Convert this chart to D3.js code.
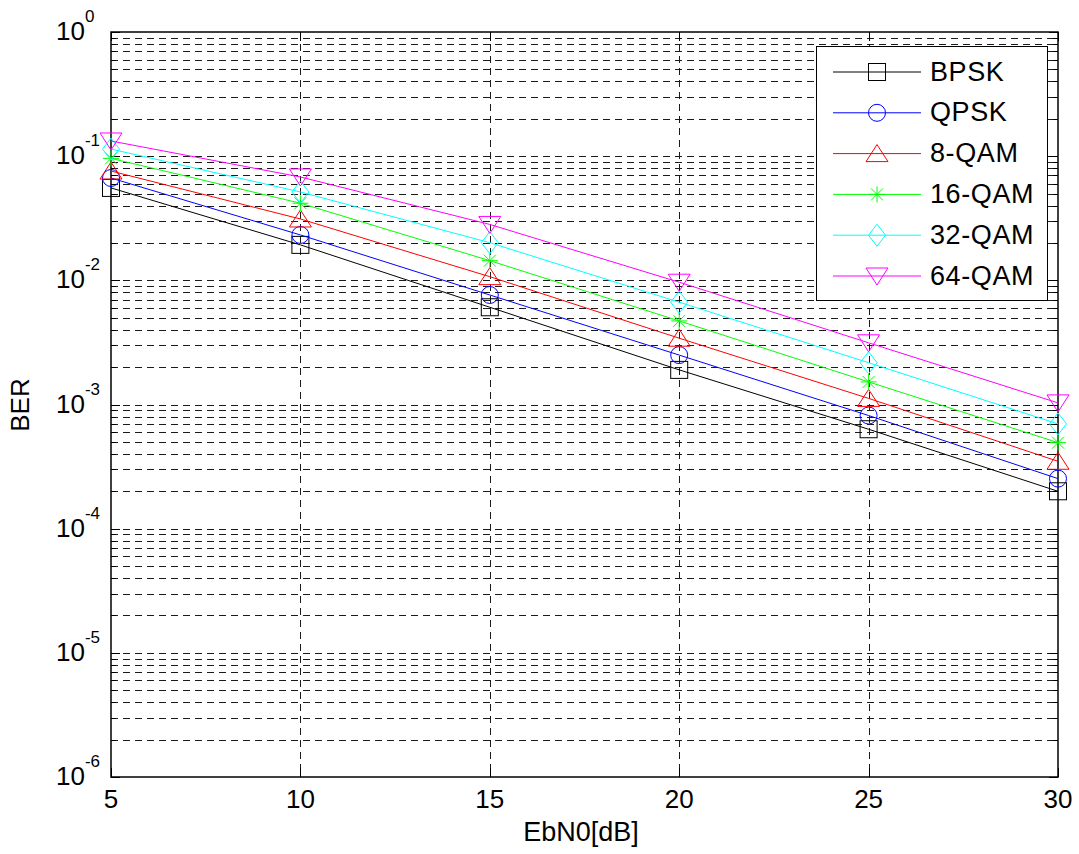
<!DOCTYPE html>
<html>
<head>
<meta charset="utf-8">
<script src="https://cdn.jsdelivr.net/npm/d3@7"></script>
<style>
body{margin:0;background:#fff;}
svg{display:block;font-family:"Liberation Sans",Arial,sans-serif;}
</style>
</head>
<body>
<svg id="chart" width="1079" height="854"></svg>
<script>
const ebn0 = [5, 10, 15, 20, 25, 30];
const seriesNames = ["BPSK", "QPSK", "8-QAM", "16-QAM", "32-QAM", "64-QAM"];
const seriesColors = ["#000000", "#0000ff", "#ff0000", "#00ff00", "#00ffff", "#ff00ff"];
const seriesMarkers = ["square", "circle", "triangleUp", "star", "diamond", "triangleDown"];
const berBPSK  = [0.0555, 0.0193, 0.00607, 0.0019, 0.000632, 0.000200];
const berQPSK  = [0.0667, 0.0232, 0.00762, 0.0025, 0.000815, 0.000253];
const ber8QAM  = [0.0759, 0.0312, 0.0107, 0.00342, 0.00112, 0.000349];
const ber16QAM = [0.0960, 0.0418, 0.0144, 0.00471, 0.00152, 0.000493];
const ber32QAM = [0.114, 0.0515, 0.0201, 0.00667, 0.00217, 0.000698];
const ber64QAM = [0.1325, 0.068, 0.0282, 0.00966, 0.00314, 0.00103];
const allSeries = [berBPSK, berQPSK, ber8QAM, ber16QAM, ber32QAM, ber64QAM];
const xTicks = [5, 10, 15, 20, 25, 30];
const yExponents = [0, -1, -2, -3, -4, -5, -6];
const xLabel = "EbN0[dB]";
const yLabel = "BER";

const svg = d3.select("#chart");
const L = 111, R = 1058, T = 32, B = 777;
const x = d3.scaleLinear().domain([5, 30]).range([L, R]);
const y = d3.scaleLog().domain([1e-6, 1]).range([B, T]);

// grid
const grid = svg.append("g").attr("stroke", "#1a1a1a").attr("stroke-width", 1)
  .attr("stroke-dasharray", "7,5").attr("fill", "none");
const minorVals = [];
for (let e = -6; e < 0; e++) for (let m = 1; m <= 9; m++) {
  const v = m * Math.pow(10, e);
  if (v > 1e-6 && v < 1) minorVals.push(v);
}
grid.selectAll("line.h").data(minorVals).join("line")
  .attr("x1", L).attr("x2", R)
  .attr("y1", d => Math.round(y(d)) + 0.5).attr("y2", d => Math.round(y(d)) + 0.5);
grid.selectAll("line.v").data(xTicks.slice(1, -1)).join("line")
  .attr("x1", d => Math.round(x(d)) + 0.5).attr("x2", d => Math.round(x(d)) + 0.5)
  .attr("y1", T).attr("y2", B);

// ticks (inward, all sides)
const ticks = svg.append("g").attr("stroke", "#000").attr("stroke-width", 1);
const tl = 9, tlm = 5;
xTicks.forEach(t => {
  const px = Math.round(x(t)) + 0.5;
  ticks.append("line").attr("x1", px).attr("x2", px).attr("y1", B).attr("y2", B - tl);
  ticks.append("line").attr("x1", px).attr("x2", px).attr("y1", T).attr("y2", T + tl);
});
const allY = minorVals.concat(yExponents.map(e => Math.pow(10, e)));
allY.forEach(v => {
  const py = Math.round(y(v)) + 0.5;
  const isMajor = Math.abs(Math.log10(v) - Math.round(Math.log10(v))) < 1e-9;
  const len = isMajor ? tl : tlm;
  ticks.append("line").attr("x1", L).attr("x2", L + len).attr("y1", py).attr("y2", py);
  ticks.append("line").attr("x1", R).attr("x2", R - len).attr("y1", py).attr("y2", py);
});

// frame
svg.append("rect").attr("x", L).attr("y", T).attr("width", R - L).attr("height", B - T)
  .attr("fill", "none").attr("stroke", "#000").attr("stroke-width", 1.5);

// tick labels
svg.append("g").selectAll("text").data(xTicks).join("text")
  .attr("x", d => x(d)).attr("y", 808).attr("text-anchor", "middle")
  .attr("font-size", 26).text(d => d);

const yl = svg.append("g");
yExponents.forEach(e => {
  const t = yl.append("text").attr("x", 56).attr("y", y(Math.pow(10, e)) + 8)
    .attr("text-anchor", "start").attr("font-size", 26);
  t.append("tspan").text("10");
  t.append("tspan").attr("font-size", 17).attr("dy", -18).text(String(e));
});

// axis labels
svg.append("text").attr("x", 581).attr("y", 841).attr("text-anchor", "middle")
  .attr("font-size", 27).text(xLabel);
svg.append("text").attr("transform", "translate(29," + 405 + ") rotate(-90)")
  .attr("text-anchor", "middle").attr("font-size", 26).text(yLabel);

// marker drawing
function drawMarker(g, type, cx, cy, color) {
  const s = g.append("g").attr("transform", `translate(${cx},${cy})`)
    .attr("fill", "none").attr("stroke", color).attr("stroke-width", 1);
  if (type === "square") s.append("rect").attr("x", -8.5).attr("y", -8.5).attr("width", 17).attr("height", 17);
  else if (type === "circle") s.append("circle").attr("r", 8.5);
  else if (type === "triangleUp") s.append("path").attr("d", "M0,-9 L11,8 L-11,8 Z");
  else if (type === "triangleDown") s.append("path").attr("d", "M0,9 L11,-8 L-11,-8 Z");
  else if (type === "diamond") s.append("path").attr("d", "M0,-11 L8.5,0 L0,11 L-8.5,0 Z");
  else if (type === "star") {
    s.append("path").attr("d", "M-8,0 L8,0 M0,-8 L0,8 M-6,-6 L6,6 M-6,6 L6,-6");
  }
}

const line = d3.line().x(d => x(d[0])).y(d => y(d[1]));
const plot = svg.append("g");
allSeries.forEach((vals, i) => {
  const pts = ebn0.map((e, j) => [e, vals[j]]);
  plot.append("path").datum(pts).attr("d", line).attr("fill", "none")
    .attr("stroke", seriesColors[i]).attr("stroke-width", 1);
  pts.forEach(p => drawMarker(plot, seriesMarkers[i], x(p[0]), y(p[1]), seriesColors[i]));
});

// legend
const lg = svg.append("g");
lg.append("rect").attr("x", 816.5).attr("y", 46.5).attr("width", 231).attr("height", 254)
  .attr("fill", "#fff").attr("stroke", "#000").attr("stroke-width", 1);
seriesNames.forEach((n, i) => {
  const cy = 72 + i * 40.8;
  lg.append("line").attr("x1", 833).attr("x2", 921).attr("y1", cy).attr("y2", cy)
    .attr("stroke", seriesColors[i]).attr("stroke-width", 1);
  drawMarker(lg, seriesMarkers[i], 877, cy, seriesColors[i]);
  lg.append("text").attr("x", 930).attr("y", cy + 8.5).attr("font-size", 27)
    .attr("letter-spacing", 0.6).text(n);
});
</script>
</body>
</html>
